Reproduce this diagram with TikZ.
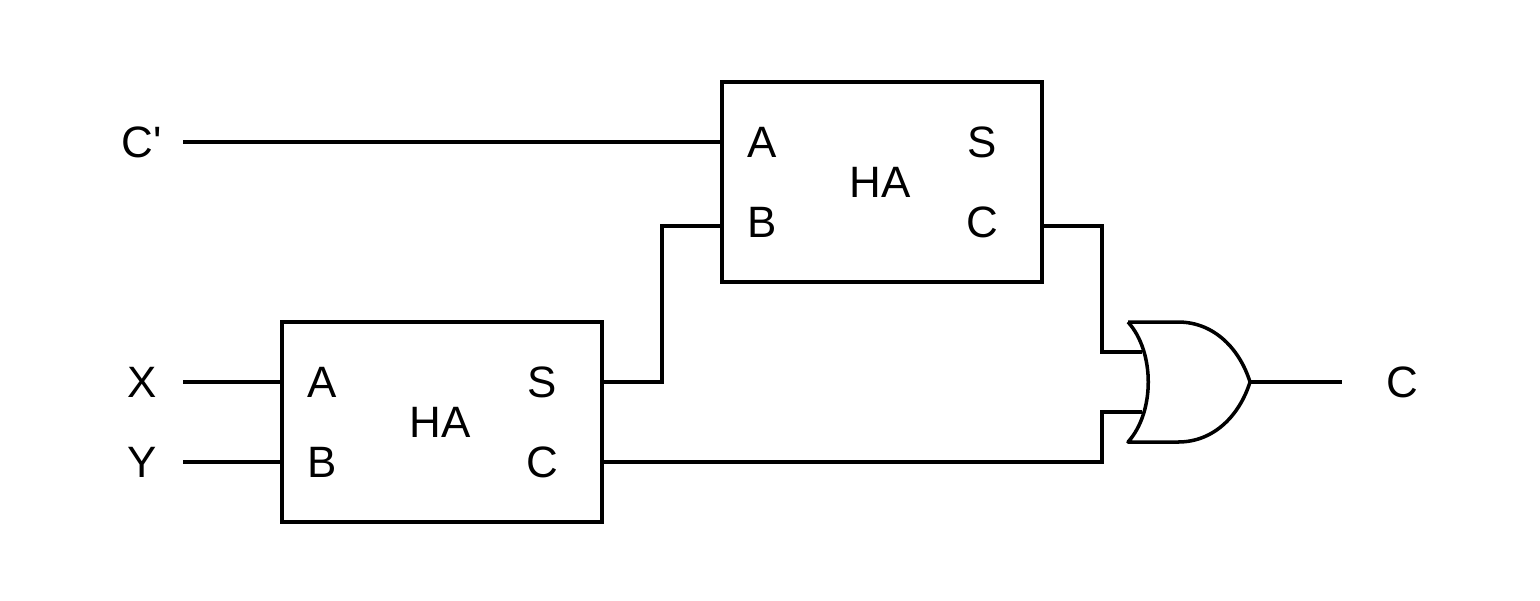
\documentclass[tikz,border=0pt]{standalone}
\usepackage{fontspec}
\setmainfont{Liberation Sans}
\begin{document}
\begin{tikzpicture}[x=0.02cm,y=-0.02cm,
  wire/.style={line width=2pt},
  box/.style={draw,line width=2pt,minimum width=6.4cm,minimum height=4cm,inner sep=0pt},
  lbl/.style={font=\fontsize{25}{25}\selectfont,inner sep=0pt}]
\useasboundingbox (0,0) rectangle (1540,600);
\node[box] (ha1) at (882,182) {};
\node[box] (ha2) at (442,422) {};
\node[lbl] at (880,182) {HA};
\node[lbl] at (762,142) {A};
\node[lbl] at (762,222) {B};
\node[lbl] at (982,142) {S};
\node[lbl] at (982,222) {C};
\node[lbl] at (440,422) {HA};
\node[lbl] at (322,382) {A};
\node[lbl] at (322,462) {B};
\node[lbl] at (542,382) {S};
\node[lbl] at (542,462) {C};
\node[lbl] (cp) at (142,142) {C\textquotesingle};
\node[lbl] (x) at (142,382) {X};
\node[lbl] (y) at (142,462) {Y};
\node[lbl] (c) at (1402,382) {C};
\coordinate (cpe) at (183,142);
\coordinate (xe) at (183,382);
\coordinate (ye) at (183,462);
\coordinate (oute) at (1342,382);
\coordinate (in1) at (1142,352);
\coordinate (in2) at (1142,412);
\coordinate (tip) at (1250,382);
% OR gate
\draw[wire,line join=round] (1128,322) -- (1178,322) .. controls (1215,322) and (1240,350) .. (tip)
  .. controls (1240,414) and (1215,442) .. (1178,442) -- (1128,442)
  .. controls (1155,412) and (1155,352) .. (1128,322);
\draw[wire] (cpe) -- (ha1.west |- cpe);
\draw[wire] (xe) -- (ha2.west |- xe);
\draw[wire] (ye) -- (ha2.west |- ye);
\draw[wire] (ha2.east |- 0,382) -- (662,382) -- (662,226) -- (ha1.west |- 0,226);
\draw[wire] (ha1.east |- 0,226) -- (1102,226) -- (1102,352) -- (in1);
\draw[wire] (ha2.east |- 0,462) -- (1102,462) -- (1102,412) -- (in2);
\draw[wire] (tip) -- (oute);
\end{tikzpicture}
\end{document}
